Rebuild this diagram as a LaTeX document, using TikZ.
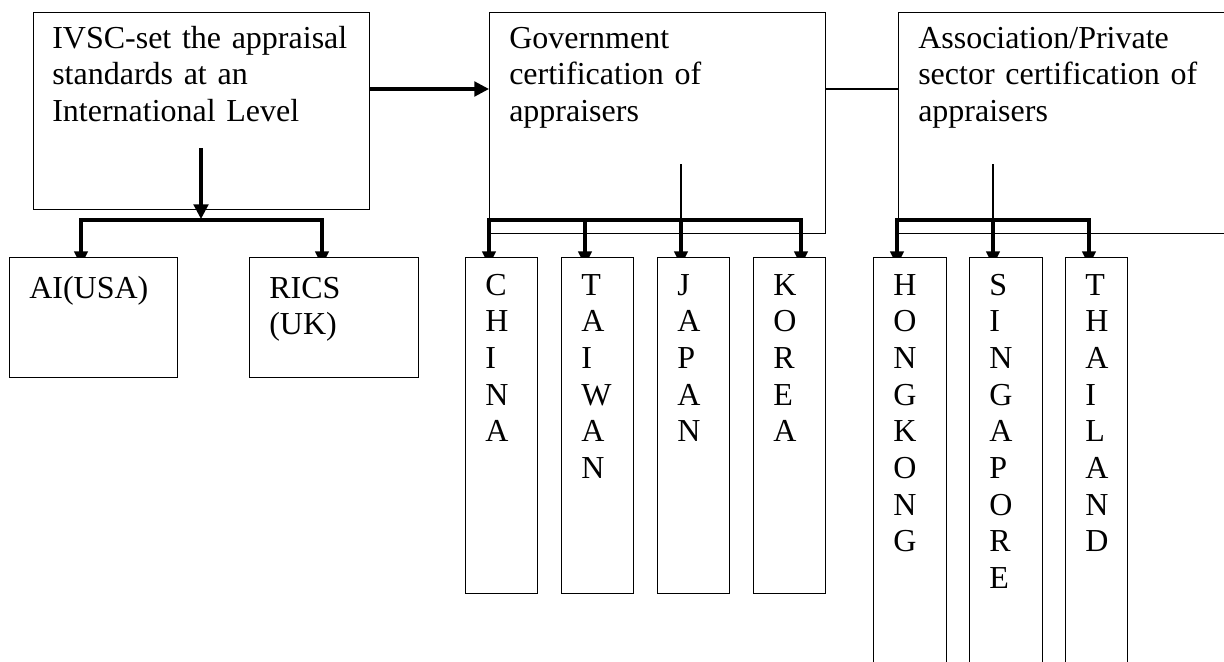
\documentclass[tikz,border=0pt]{standalone}
\usepackage{fontspec}
\setmainfont{Liberation Serif}
\usetikzlibrary{arrows.meta}
\pgfdeclarelayer{bg}
\pgfsetlayers{bg,main}

\begin{document}
\begin{tikzpicture}[x=0.75pt,y=-0.75pt,
  every node/.style={font=\fontsize{24pt}{27.5pt}\selectfont},
  box/.style={draw,line width=0.8pt,inner sep=0pt,anchor=north west},
  leaf/.style={box,fill=white},
  txt/.style={anchor=base west,inner sep=0pt,align=left,text width=#1},
  bigarrow/.style={line width=2.3pt,-{Triangle[length=11pt,width=11pt]}},
  drop/.style={line width=2.4pt,-{Triangle[length=11pt,width=10pt]},shorten >=-6.75pt},
  bus/.style={line width=2.4pt,line cap=rect},
  stem/.style={line width=0.9pt},
  link/.style={line width=1.3pt}]
\useasboundingbox (0,0) rectangle (1224,661);
\clip (0,0) rectangle (1224,661);
\node[box,minimum width=252pt,minimum height=147.75pt] (ivsc) at (33,12) {};
\node[txt=240pt] (ivsc-txt) at (52,48) {IVSC-set the appraisal\\standards at an\\International Level};
\node[box,minimum width=252pt,minimum height=165.75pt] (gov) at (489,12) {};
\node[txt=240pt] (gov-txt) at (509,48) {Government\\certification of\\appraisers};
\node[box,minimum width=255pt,minimum height=165.75pt] (assoc) at (898,12) {};
\node[txt=240pt] (assoc-txt) at (918,48) {Association/Private\\sector certification of\\appraisers};
\node[leaf,minimum width=126pt,minimum height=90pt] (ai) at (9,257) {};
\node[txt=110pt] (ai-txt) at (29,298) {AI(USA)};
\node[leaf,minimum width=126.75pt,minimum height=90pt] (rics) at (249,257) {};
\node[txt=110pt] (rics-txt) at (269,298) {RICS\\(UK)};
\coordinate (ivscout) at (369,89);
\draw[bigarrow] (ivscout) -- (ivscout -| gov.west);
\draw[link] (gov.east |- ivscout) -- (assoc.west |- ivscout);
\coordinate (ivscstem) at (201,148);
\coordinate (ivscbus) at (201,219);
\draw[bigarrow] (ivscstem) -- (ivscbus);
\coordinate (ai-bus) at (81,220);
\coordinate (rics-bus) at (322,220);
\begin{pgfonlayer}{bg}
\draw[bus] (ai-bus) -- (rics-bus);
\draw[drop] (ai-bus) -- (ai-bus |- ai.north);
\draw[drop] (rics-bus) -- (rics-bus |- rics.north);
\end{pgfonlayer}
\foreach \name/\x/\ax/\word in {china/465/489/{C\\H\\I\\N\\A},taiwan/561/585/{T\\A\\I\\W\\A\\N},japan/657/681/{J\\A\\P\\A\\N},korea/753/801/{K\\O\\R\\E\\A}}{
  \node[leaf,minimum width=54pt,minimum height=252pt] (\name) at (\x,257) {};
  \node[txt=30pt] (\name-txt) at (\x+20,295) {\word};
  \coordinate (\name-bus) at (\ax,220);
  \begin{pgfonlayer}{bg}
  \draw[drop] (\name-bus) -- (\name-bus |- \name.north);
  \end{pgfonlayer}
}
\begin{pgfonlayer}{bg}
\draw[bus] (china-bus) -- (korea-bus);
\end{pgfonlayer}
\coordinate (govstem) at (681,164);
\draw[stem] (govstem) -- (govstem |- japan-bus);
\foreach \name/\x/\w/\ax/\word in {hongkong/873/54.75/897/{H\\O\\N\\G\\K\\O\\N\\G},singapore/969/54.75/993/{S\\I\\N\\G\\A\\P\\O\\R\\E},thailand/1065/46.5/1089/{T\\H\\A\\I\\L\\A\\N\\D}}{
  \node[leaf,minimum width=\w pt,minimum height=315pt] (\name) at (\x,257) {};
  \node[txt=30pt] (\name-txt) at (\x+20,295) {\word};
  \coordinate (\name-bus) at (\ax,220);
  \begin{pgfonlayer}{bg}
  \draw[drop] (\name-bus) -- (\name-bus |- \name.north);
  \end{pgfonlayer}
}
\begin{pgfonlayer}{bg}
\draw[bus] (hongkong-bus) -- (thailand-bus);
\end{pgfonlayer}
\coordinate (assocstem) at (993,164);
\draw[stem] (assocstem) -- (assocstem |- singapore-bus);
\end{tikzpicture}
\end{document}
